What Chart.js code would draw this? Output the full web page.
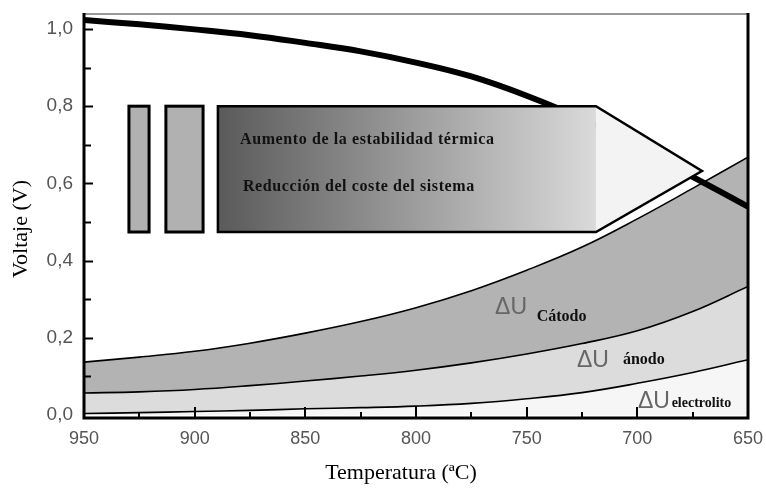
<!DOCTYPE html>
<html>
<head>
<meta charset="utf-8">
<script src="https://cdn.jsdelivr.net/npm/chart.js@4.4.1/dist/chart.umd.min.js"></script>
<style>
  html, body { margin: 0; padding: 0; background: #fff; }
</style>
</head>
<body>
<canvas id="chart" width="766" height="490"></canvas>
<script>
// values
const temps = [950, 925, 900, 875, 850, 825, 800, 775, 750, 725, 700, 675, 650];
const voltaje = [1.023, 1.012, 0.999, 0.984, 0.964, 0.942, 0.913, 0.877, 0.827, 0.767, 0.695, 0.617, 0.540];
const catodo = [0.137, 0.150, 0.165, 0.186, 0.212, 0.242, 0.278, 0.322, 0.375, 0.435, 0.508, 0.587, 0.668];
const anodo = [0.057, 0.060, 0.066, 0.076, 0.088, 0.101, 0.116, 0.135, 0.158, 0.185, 0.218, 0.268, 0.333];
const electrolito = [0.004, 0.006, 0.009, 0.012, 0.016, 0.019, 0.023, 0.030, 0.042, 0.058, 0.082, 0.110, 0.143];
const xTicks = [950, 900, 850, 800, 750, 700, 650];
const yTicks = [0, 0.2, 0.4, 0.6, 0.8, 1.0];

// the arrow box annotation (data units)
const cajaY = [0.8, 0.474];
const barrasX = [[929.7, 920.6], [913.0, 896.2]];
const flechaX = [889.5, 718.7, 670.8];
const flechaTipY = 0.632;

const SERIF = '"Liberation Serif", "Times New Roman", serif';
const SANS = '"Liberation Sans", Arial, sans-serif';

const notas = [
  { text: 'Aumento de la estabilidad térmica', x: 879.5, y: 0.712, font: `bold 16px ${SERIF}`, color: '#111', sp: '0.6px' },
  { text: 'Reducción del coste del sistema', x: 878.2, y: 0.591, font: `bold 16px ${SERIF}`, color: '#111', sp: '0.6px' },
  { text: '\u0394U', x: 764.3, y: 0.277, font: `23px ${SANS}`, color: '#666' },
  { text: 'Cátodo', x: 745.5, y: 0.254, font: `bold 16px ${SERIF}`, color: '#111' },
  { text: '\u0394U', x: 727.3, y: 0.142, font: `23px ${SANS}`, color: '#666' },
  { text: 'ánodo', x: 706.5, y: 0.142, font: `bold 16px ${SERIF}`, color: '#111' },
  { text: '\u0394U', x: 699.7, y: 0.034, font: `23px ${SANS}`, color: '#666' },
  { text: 'electrolito', x: 684.5, y: 0.031, font: `bold 14px ${SERIF}`, color: '#111' },
];

const pts = arr => temps.map((t, i) => ({ x: t, y: arr[i] }));

// scale padding would otherwise push the plot frame inwards
const noPad = s => { s.paddingTop = 0; s.paddingBottom = 0; s.paddingLeft = 0; s.paddingRight = 0; };

const decor = {
  id: 'decor',
  afterDatasetsDraw(chart) {
    const { ctx, scales: { x, y } } = chart;
    const yt = y.getPixelForValue(cajaY[0]);
    const yb = y.getPixelForValue(cajaY[1]);
    ctx.save();
    ctx.strokeStyle = '#000';
    ctx.lineWidth = 3;
    barrasX.forEach(([a0, a1]) => {
      const x0 = x.getPixelForValue(a0);
      const x1 = x.getPixelForValue(a1);
      ctx.fillStyle = '#b1b1b1';
      ctx.fillRect(x0, yt, x1 - x0, yb - yt);
      ctx.strokeRect(x0, yt, x1 - x0, yb - yt);
    });
    const bx0 = x.getPixelForValue(flechaX[0]);
    const bx1 = x.getPixelForValue(flechaX[1]);
    const tip = x.getPixelForValue(flechaX[2]);
    const ty = y.getPixelForValue(flechaTipY);
    ctx.beginPath();
    ctx.moveTo(bx1, yt);
    ctx.lineTo(tip, ty);
    ctx.lineTo(bx1, yb);
    ctx.closePath();
    ctx.fillStyle = '#f3f3f3';
    ctx.fill();
    const g = ctx.createLinearGradient(bx0, 0, bx1, 0);
    g.addColorStop(0, '#5a5a5a');
    g.addColorStop(1, '#dadada');
    ctx.fillStyle = g;
    ctx.fillRect(bx0, yt, bx1 - bx0, yb - yt);
    ctx.lineWidth = 2.5;
    ctx.beginPath();
    ctx.moveTo(bx0, yt);
    ctx.lineTo(bx1, yt);
    ctx.lineTo(tip, ty);
    ctx.lineTo(bx1, yb);
    ctx.lineTo(bx0, yb);
    ctx.closePath();
    ctx.stroke();

    // labels inside the plot
    ctx.textBaseline = 'middle';
    ctx.textAlign = 'left';
    notas.forEach(n => {
      ctx.font = n.font;
      ctx.letterSpacing = n.sp || '0px';
      ctx.fillStyle = n.color;
      ctx.fillText(n.text, x.getPixelForValue(n.x), y.getPixelForValue(n.y));
    });
    ctx.restore();
  },
  afterDraw(chart) {
    const { ctx, chartArea: a, scales: { x, y } } = chart;
    ctx.save();
    ctx.strokeStyle = '#000';
    // inward ticks
    ctx.lineWidth = 2;
    for (let v = 0.1; v < 1.05; v += 0.1) {
      const py = Math.round(y.getPixelForValue(v)) + 0.5;
      const major = Math.round(v * 10) % 2 === 0;
      ctx.beginPath();
      ctx.moveTo(a.left, py);
      ctx.lineTo(a.left + (major ? 9 : 7), py);
      ctx.stroke();
    }
    for (let t = 925; t > 650; t -= 25) {
      const px = Math.round(x.getPixelForValue(t));
      const major = t % 50 === 0;
      ctx.beginPath();
      ctx.moveTo(px, a.bottom);
      ctx.lineTo(px, a.bottom - (major ? 11 : 6));
      ctx.stroke();
    }
    // frame
    ctx.lineWidth = 1.2;
    ctx.strokeStyle = '#333';
    ctx.beginPath();
    ctx.moveTo(a.left, a.top);
    ctx.lineTo(a.right, a.top);
    ctx.stroke();
    ctx.strokeStyle = '#000';
    ctx.lineWidth = 3;
    ctx.beginPath();
    ctx.moveTo(a.left, a.top - 1);
    ctx.lineTo(a.left, a.bottom);
    ctx.lineTo(a.right, a.bottom);
    ctx.lineTo(a.right, a.top - 1);
    ctx.stroke();

    // axis titles
    ctx.fillStyle = '#000';
    ctx.font = `22px ${SERIF}`;
    ctx.textAlign = 'center';
    ctx.textBaseline = 'middle';
    ctx.fillText('Temperatura (ªC)', 401, 473);
    ctx.translate(21, 229);
    ctx.rotate(-Math.PI / 2);
    ctx.fillText('Voltaje (V)', 0, 0);
    ctx.restore();
  }
};

new Chart(document.getElementById('chart'), {
  type: 'line',
  data: {
    datasets: [
      {
        label: 'Voltaje',
        data: pts(voltaje),
        borderColor: '#000',
        borderWidth: 6,
        fill: false,
        order: 0,
      },
      {
        label: 'ΔU electrolito',
        data: pts(electrolito),
        borderColor: '#000',
        borderWidth: 1.6,
        backgroundColor: '#f6f6f6',
        fill: 'origin',
        order: 1,
      },
      {
        label: 'ΔU ánodo',
        data: pts(anodo),
        borderColor: '#000',
        borderWidth: 1.6,
        backgroundColor: '#dcdcdc',
        fill: '-1',
        order: 1,
      },
      {
        label: 'ΔU Cátodo',
        data: pts(catodo),
        borderColor: '#000',
        borderWidth: 1.6,
        backgroundColor: '#b3b3b3',
        fill: '-1',
        order: 1,
      },
    ]
  },
  options: {
    responsive: false,
    animation: false,
    devicePixelRatio: 1,
    layout: { autoPadding: false, padding: { top: 14, right: 18, left: 0, bottom: 0 } },
    elements: {
      point: { radius: 0, hoverRadius: 0 },
      line: { tension: 0.4 }
    },
    plugins: {
      legend: { display: false },
      tooltip: { enabled: false },
    },
    scales: {
      x: {
        type: 'linear',
        reverse: true,
        min: 650,
        max: 950,
        afterBuildTicks: s => { s.ticks = xTicks.map(v => ({ value: v })); },
        afterFit: s => { s.height = 72; noPad(s); },
        grid: { display: false, drawTicks: false },
        border: { display: false },
        ticks: {
          padding: 10,
          color: '#555',
          maxRotation: 0,
          font: { family: SANS, size: 18 },
        }
      },
      y: {
        min: -0.0078,
        max: 1.0388,
        afterBuildTicks: s => { s.ticks = yTicks.map(v => ({ value: v })); },
        afterFit: s => { s.width = 84; noPad(s); },
        grid: { display: false, drawTicks: false },
        border: { display: false },
        ticks: {
          padding: 11,
          color: '#555',
          font: { family: SANS, size: 19 },
          callback: v => v.toFixed(1).replace('.', ','),
        }
      }
    }
  },
  plugins: [decor]
});
</script>
</body>
</html>
